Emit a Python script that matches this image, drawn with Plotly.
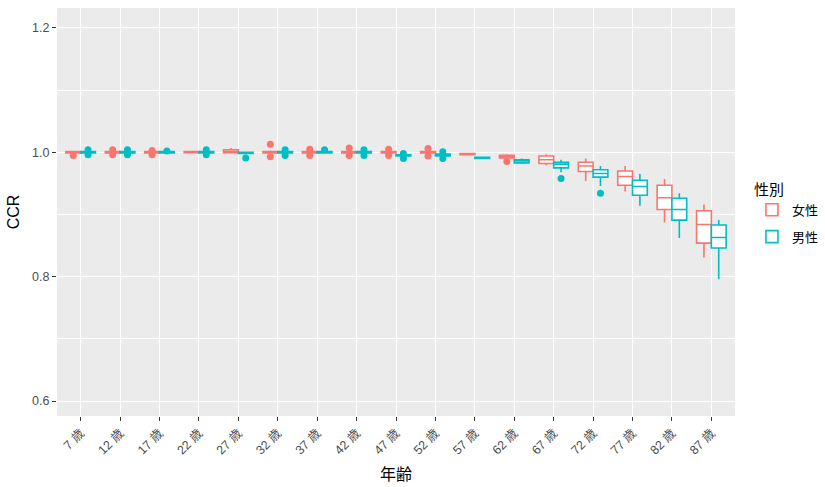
import plotly.graph_objects as go

ages = [7, 12, 17, 22, 27, 32, 37, 42, 47, 52, 57, 62, 67, 72, 77, 82, 87]
tick_labels = [f"{a} 歳" for a in ages]

# 女性 (female)
f_lo  = [0.998, 0.998, 0.998, 0.999, 0.998, 0.998, 0.998, 0.998, 0.998, 0.998, 0.995, 0.989, 0.979, 0.954, 0.937, 0.887, 0.831]
f_q1  = [0.999, 0.999, 0.999, 0.9995, 0.9995, 0.999, 0.999, 0.999, 0.999, 0.999, 0.996, 0.991, 0.982, 0.969, 0.947, 0.908, 0.854]
f_med = [1.000, 1.000, 1.000, 1.000, 1.001, 1.000, 1.000, 1.000, 1.000, 1.000, 0.997, 0.993, 0.988, 0.978, 0.961, 0.927, 0.884]
f_q3  = [1.001, 1.001, 1.001, 1.001, 1.004, 1.001, 1.001, 1.001, 1.001, 1.001, 0.998, 0.995, 0.994, 0.984, 0.970, 0.947, 0.906]
f_hi  = [1.002, 1.002, 1.002, 1.002, 1.007, 1.003, 1.002, 1.002, 1.002, 1.002, 0.999, 0.997, 0.997, 0.990, 0.978, 0.957, 0.916]
f_out = [[0.995], [1.004, 0.996], [1.003, 0.996], [], [], [1.013, 0.993], [1.005, 0.995],
         [1.007, 0.995], [1.005, 0.995], [1.006, 0.994], [], [0.985], [], [], [], [], []]

# 男性 (male)
m_lo  = [0.998, 0.998, 0.998, 0.998, 0.997, 0.998, 0.998, 0.998, 0.993, 0.993, 0.989, 0.981, 0.968, 0.946, 0.914, 0.862, 0.796]
m_q1  = [0.999, 0.999, 0.999, 0.999, 0.998, 0.999, 0.999, 0.999, 0.994, 0.994, 0.990, 0.983, 0.975, 0.960, 0.931, 0.891, 0.846]
m_med = [1.000, 1.000, 1.000, 1.000, 0.999, 1.000, 1.000, 1.000, 0.995, 0.996, 0.991, 0.986, 0.981, 0.966, 0.945, 0.908, 0.863]
m_q3  = [1.001, 1.001, 1.001, 1.001, 1.000, 1.001, 1.001, 1.001, 0.996, 0.997, 0.992, 0.988, 0.984, 0.972, 0.955, 0.926, 0.883]
m_hi  = [1.002, 1.002, 1.002, 1.002, 1.001, 1.002, 1.002, 1.002, 0.997, 0.998, 0.993, 0.990, 0.988, 0.978, 0.965, 0.934, 0.891]
m_out = [[1.004, 0.996], [1.004, 0.996], [1.002], [1.004, 0.996], [0.991], [1.004, 0.995], [1.004],
         [1.004, 0.995], [0.990, 0.998], [1.001, 0.990], [], [], [0.958], [0.934], [], [], []]

FEMALE = "#F8766D"
MALE = "#00BFC4"
DODGE = 0.1875
BOXW = 0.375

fig = go.Figure()

def add_group(name, color, lo, q1, med, q3, hi, outs, shift):
    xs = [i + shift for i in range(len(ages))]
    fig.add_trace(go.Box(
        name=name, x=xs, lowerfence=lo, q1=q1, median=med, q3=q3, upperfence=hi,
        width=BOXW, whiskerwidth=0, fillcolor="white", legendgroup=name,
        line=dict(color=color, width=1.6), boxpoints=False, showlegend=True,
    ))
    ox, oy = [], []
    for i, vals in enumerate(outs):
        for v in vals:
            ox.append(i + shift)
            oy.append(v)
    fig.add_trace(go.Scatter(
        x=ox, y=oy, mode="markers", marker=dict(color=color, size=7),
        showlegend=False, hoverinfo="y", legendgroup=name,
    ))

add_group("女性", FEMALE, f_lo, f_q1, f_med, f_q3, f_hi, f_out, -DODGE)
add_group("男性", MALE, m_lo, m_q1, m_med, m_q3, m_hi, m_out, DODGE)

font_fam = "Liberation Sans, Arial, Noto Sans CJK JP"

fig.update_layout(
    width=825, height=487,
    margin=dict(l=57, r=90, t=8, b=71, autoexpand=False),
    paper_bgcolor="white", plot_bgcolor="#EBEBEB",
    font=dict(family=font_fam, color="#000000"),
    boxmode="overlay",
    legend=dict(
        title=dict(text="性別", font=dict(size=15, family="Noto Sans CJK JP")),
        font=dict(size=13, family="Noto Sans CJK JP"),
        x=1.025, xanchor="left", y=0.59, yanchor="top",
        bgcolor="white", tracegroupgap=7,
    ),
    xaxis=dict(
        range=[-0.6, 16.6], tickvals=list(range(len(ages))), ticktext=tick_labels,
        tickangle=-45, tickfont=dict(size=12.5, color="#4D4D4D", family=font_fam),
        showgrid=True, gridcolor="white", gridwidth=1.2, zeroline=False,
        ticks="outside", ticklen=4, tickcolor="#333333", tickwidth=1,
        automargin=False,
        title=dict(text="年齢", font=dict(size=16, family="Noto Sans CJK JP"), standoff=12),
    ),
    yaxis=dict(
        range=[0.576, 1.232], tickvals=[0.6, 0.8, 1.0, 1.2], tickformat=".1f",
        tickfont=dict(size=12.5, color="#4D4D4D"),
        showgrid=True, gridcolor="white", gridwidth=1.2, zeroline=False,
        ticks="outside", ticklen=4, tickcolor="#333333", tickwidth=1,
        automargin=False,
        minor=dict(tickvals=[0.7, 0.9, 1.1], showgrid=True, gridcolor="white", gridwidth=0.6, ticks=""),
        title=dict(text="CCR", font=dict(size=16), standoff=8),
    ),
)

fig.write_html("out.html")
